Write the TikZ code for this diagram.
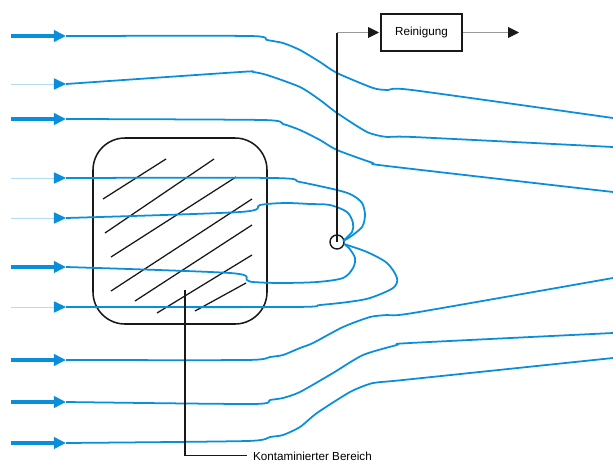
\documentclass[tikz,border=0pt]{standalone}
\usepackage{fontspec}
\setmainfont{Liberation Sans}
\usetikzlibrary{arrows.meta,positioning}
\definecolor{flow}{RGB}{8,142,218}
\definecolor{flowpale}{RGB}{178,220,246}

\begin{document}
\begin{tikzpicture}[
    x=0.025cm, y=-0.025cm,
    >={Triangle[length=0.27cm,width=0.27cm,color=black!90]},
    stream/.style={flow, line width=1.25pt, line join=round},
    tail/.style={flow, line width=2.3pt, -{Triangle[length=0.3cm,width=0.28cm]}},
    tail pale/.style={flowpale, line width=0.7pt,
      -{Triangle[length=0.3cm,width=0.28cm,color=flow]}},
    area/.style={draw=black!90, line width=1.1pt, rounded corners=0.8cm},
    hatch line/.style={black!90, line width=0.9pt},
    pipe/.style={black!90, line width=0.9pt},
    feed/.style={black!40, line width=0.6pt},
    well/.style={circle, draw=black!90, line width=1pt, minimum size=0.35cm, inner sep=0pt},
    cleanbox/.style={draw=black!90, line width=1pt, minimum width=2.02cm,
      minimum height=0.92cm, inner sep=0pt, font=\fontsize{8.3}{10}\selectfont},
    lbl/.style={inner sep=2pt, font=\fontsize{8.3}{10}\selectfont}
  ]

  \useasboundingbox (0,0) rectangle (613,461);

  % inflow arrows
  \foreach \yy in {36,119,267,360,402,443}
    \draw[tail] (11,\yy) -- (66,\yy);
  \foreach \yy in {84,178,218,307}
    \draw[tail pale] (11,\yy) -- (66,\yy);

  % contaminated area with hatching
  \draw[area] (93,138) rectangle (267,324);
  \draw[hatch line] (103,199) -- (166,159);
  \draw[hatch line] (105,233) -- (214,159);
  \draw[hatch line] (111,257) -- (236,177);
  \draw[hatch line] (111,291) -- (252,199);
  \draw[hatch line] (135,301) -- (252,225);
  \draw[hatch line] (157,313) -- (252,255);
  \draw[hatch line] (195,311) -- (246,283);

  % streamlines passing by
  \draw[stream] plot[smooth, tension=0.4] coordinates {(66,36) (250,36) (267,40)
    (283,43) (300,50) (320,62) (337,73) (373,88) (388,90) (412,90) (613,118)};
  \draw[stream] plot[smooth, tension=0.4] coordinates {(66,84) (240,72) (253,72)
    (267,75) (300,87) (320,100) (337,113) (367,132) (387,137) (413,137) (613,147)};
  \draw[stream] plot[smooth, tension=0.4] coordinates {(66,119) (263,120) (283,124)
    (300,130) (320,140) (337,150) (373,163) (387,166) (613,192)};
  \draw[stream] plot[smooth, tension=0.4] coordinates {(66,360) (247,360) (270,357)
    (283,355) (300,348) (313,343) (343,327) (370,317) (387,315) (413,313) (613,278)};
  \draw[stream] plot[smooth, tension=0.4] coordinates {(66,402) (253,404) (270,400)
    (283,398) (300,392) (333,373) (363,355) (397,345) (410,343) (613,333)};
  \draw[stream] plot[smooth, tension=0.4] coordinates {(66,443) (247,441) (270,437)
    (283,435) (300,427) (317,413) (350,392) (373,383) (403,380) (613,358)};

  % streamlines captured by the well
  \node[well] (well) at (337,242) {};
  \draw[stream] plot[smooth, tension=0.5] coordinates {(66,178) (273,178) (300,182)
    (337,190) (352,195) (362,203) (365,215) (362,227) (350,237) (343,241)};
  \draw[stream] plot[smooth, tension=0.5] coordinates {(66,218) (240,212) (260,205)
    (285,203) (310,204) (330,205) (347,212) (353,223) (352,232) (344,240)};
  \draw[stream] plot[smooth, tension=0.5] coordinates {(66,267) (230,273) (247,280)
    (253,282) (280,283) (317,282) (343,278) (353,268) (355,258) (349,248) (344,244)};
  \draw[stream] plot[smooth, tension=0.5] coordinates {(66,307) (293,307) (320,305)
    (348,302) (370,298) (393,288) (397,278) (387,263) (367,252) (344,244)};

  % pumping and treatment
  \node[cleanbox] (rein) at (421.5,32.5) {Reinigung};
  \coordinate (bend) at (337,32.5);
  \coordinate (out) at (519,32.5);
  \draw[pipe] (well.center) -- (bend);
  \draw[feed, ->, shorten >=1pt] (bend) -- (rein.west);
  \draw[feed, ->] (rein.east) -- (out);

  % label
  \node[lbl, anchor=base west] (name) at (250,460) {Kontaminierter Bereich};
  \coordinate (inside) at (185,290);
  \draw[pipe, shorten >=2pt] (inside) |- (name.west);
\end{tikzpicture}
\end{document}
